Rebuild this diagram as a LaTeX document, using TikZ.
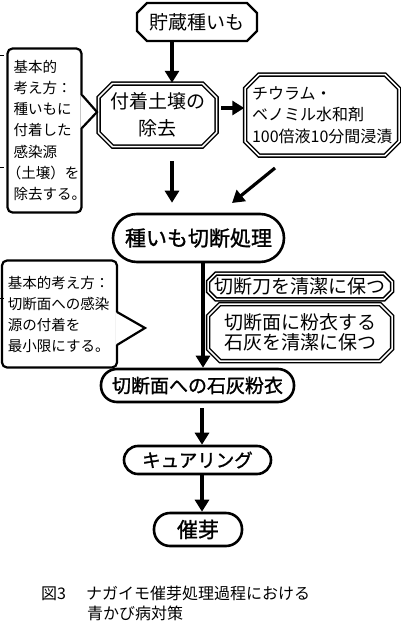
\documentclass[tikz,border=0pt]{standalone}
\usepackage{fontspec}
\newfontfamily\jp{Noto Sans CJK JP}
\newfontfamily\jpb{Noto Sans CJK JP}[FakeBold=1.2]
\usetikzlibrary{shapes.misc,arrows.meta}
\begin{document}
\begin{tikzpicture}[x=1pt,y=-1pt,
  every node/.style={font=\jp},
  chamf/.style={draw, chamfered rectangle, chamfered rectangle xsep=#1, chamfered rectangle ysep=#1, inner sep=0pt, align=center},
  dbl/.style={chamf=#1, line width=1.5pt, double=white, double distance=1.5pt},
  stad/.style={draw, rectangle, line width=2.6pt, inner sep=0pt, align=center},
  cbox/.style={draw, rectangle, rounded corners=5pt, line width=2.2pt, inner xsep=6pt, inner ysep=0pt, align=left},
  arr/.style={line width=3.2pt, -{Triangle[width=14pt,length=12pt]}},
  ptr/.style={line width=2.2pt, line join=miter}
]
\useasboundingbox (0,0) rectangle (400,621);
\fill[white] (0,0) rectangle (400,621);

% top box
\node[chamf=5pt, line width=2.4pt, minimum width=120pt, minimum height=38pt, font=\jp\fontsize{19}{22}\selectfont] (top) at (197,22) {貯蔵種いも};

% soil removal
\node[dbl=7pt, minimum width=118pt, minimum height=63pt, font=\jp\fontsize{19}{27}\selectfont] (soil) at (157.5,115) {付着土壌の\\除去};

% chemical treatment
\node[dbl=7pt, minimum width=150pt, minimum height=81pt, align=left, text width=140pt, font=\jp\fontsize{16}{21.5}\selectfont] (chem) at (322,115) {チウラム・\\ベノミル水和剤\\100倍液10分間浸漬};

% callout 1
\node[cbox, text width=62pt, minimum height=164pt, font=\jp\fontsize{14.5}{21.2}\selectfont] (c1) at (44.5,130.5) {基本的\\考え方：\\種いもに\\付着した\\感染源\\\hspace*{-0.45em}（土壌）を\\除去する。};
\coordinate (p1a) at (82,95);
\coordinate (p1t) at (97,112);
\coordinate (p1b) at (82,128);
\fill[white] ([xshift=-1.6pt]p1a) -- (p1t) -- ([xshift=-1.6pt]p1b) -- cycle;
\draw[ptr] (p1a) -- (p1t) -- (p1b);

% cutting
\node[stad, rounded corners=24pt, minimum width=171pt, minimum height=48pt, font=\jpb\fontsize{21}{24}\selectfont] (cut) at (198.5,238) {種いも切断処理};

% knife / lime boxes
\node[dbl=4pt, minimum width=184pt, minimum height=25pt, font=\jp\fontsize{19}{22}\selectfont] (knife) at (300,286.5) {切断刀を清潔に保つ};
\node[dbl=6pt, minimum width=184pt, minimum height=57pt, font=\jp\fontsize{19}{20.5}\selectfont] (lime2) at (300,332.5) {切断面に粉衣する\\石灰を清潔に保つ};

% callout 2
\node[cbox, text width=103pt, minimum height=107pt, font=\jp\fontsize{14.5}{21}\selectfont] (c2) at (59.5,314) {基本的考え方：\\切断面への感染\\源の付着を\\最小限にする。};
\coordinate (p2a) at (117,312);
\coordinate (p2t) at (145,328);
\coordinate (p2b) at (117,345);
\fill[white] ([xshift=-1.6pt]p2a) -- (p2t) -- ([xshift=-1.6pt]p2b) -- cycle;
\draw[ptr] (p2a) -- (p2t) -- (p2b);

% lime powder
\node[stad, rounded corners=16pt, minimum width=193pt, minimum height=33pt, font=\jpb\fontsize{19}{22}\selectfont] (lime) at (197.5,385.5) {切断面への石灰粉衣};
% curing
\node[stad, rounded corners=14pt, minimum width=147pt, minimum height=28pt, font=\jpb\fontsize{18.5}{22}\selectfont] (cure) at (197.5,460) {キュアリング};
% sprouting
\node[stad, rounded corners=16pt, minimum width=88pt, minimum height=33pt, font=\jpb\fontsize{21}{24}\selectfont] (sprout) at (198,529.5) {催芽};

% connectors
\draw[arr] (top.south -| 172,0) -- (soil.north -| 172,0);
\draw[arr, shorten <=4pt] (soil.east |- 0,108) -- (chem.west |- 0,108);
\draw[arr, shorten <=14pt, shorten >=10pt] (soil.south -| 172,0) -- (cut.north -| 172,0);
\coordinate (d1) at (275,168);
\coordinate (d2) at (232,203);
\draw[arr] (d1) -- (d2);
\draw[arr] (cut.south -| 203,0) -- (lime.north -| 203,0);
\draw[arr, shorten <=5pt] (lime.south -| 202,0) -- (cure.north -| 202,0);
\draw[arr] (cure.south -| 202,0) -- (sprout.north -| 202,0);

% edge ticks
\draw[line width=1pt] (0,55) -- (4,55) (0,167) -- (4,167) (0,298) -- (4,298);

% caption
\node[anchor=west, inner sep=0pt, font=\jp\fontsize{16}{20}\selectfont] (cap1) at (41,593) {図3　\hspace{4pt}ナガイモ催芽処理過程における};
\node[anchor=west, inner sep=0pt, font=\jp\fontsize{16}{20}\selectfont] (cap2) at (87,613) {青かび病対策};
\end{tikzpicture}
\end{document}
